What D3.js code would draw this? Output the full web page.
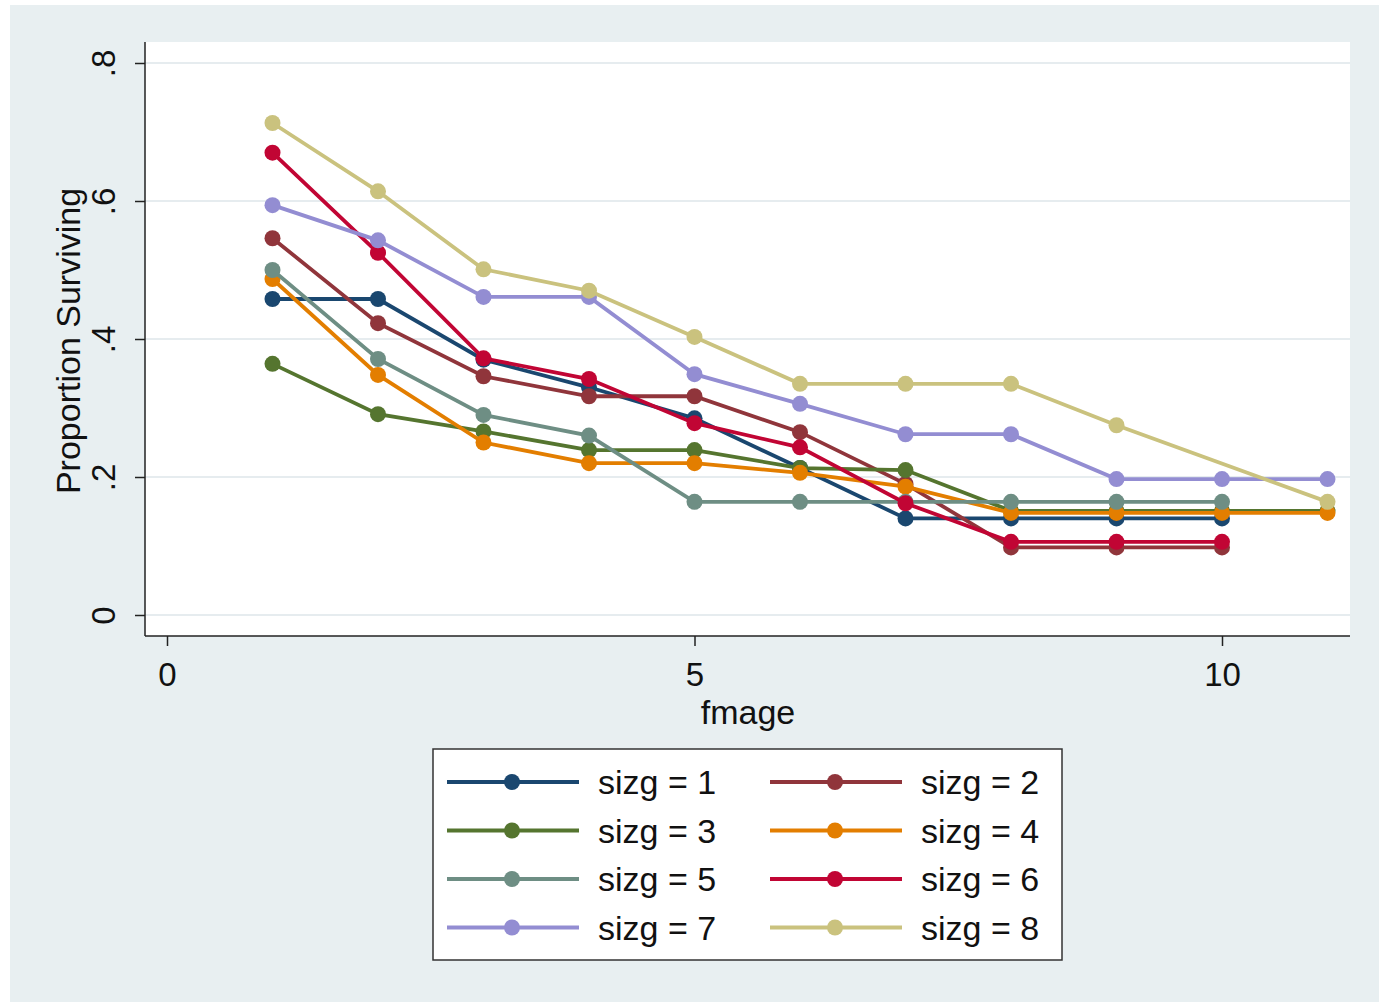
<!DOCTYPE html>
<html>
<head>
<meta charset="utf-8">
<script src="https://cdn.jsdelivr.net/npm/d3@7"></script>
<style>
  body { margin: 0; background: #fff; }
  svg text { font-family: "Liberation Sans", Arial, sans-serif; fill: #111; }
</style>
</head>
<body>
<div id="vizcont"></div>
<script>
// values, null = no point for that fmage
var fmage = [1, 2, 3, 4, 5, 6, 7, 8, 9, 10, 11];
var sizg1 = [0.458, 0.458, 0.370, 0.330, 0.285, 0.213, 0.140, 0.140, 0.140, 0.140, null];
var sizg2 = [0.546, 0.423, 0.346, 0.317, 0.317, 0.265, 0.190, 0.098, 0.098, 0.098, null];
var sizg3 = [0.364, 0.291, 0.266, 0.239, 0.239, 0.213, 0.210, 0.151, 0.151, 0.151, 0.151];
var sizg4 = [0.487, 0.348, 0.250, 0.220, 0.220, 0.206, 0.186, 0.148, 0.148, 0.148, 0.148];
var sizg5 = [0.500, 0.371, 0.290, 0.260, 0.164, 0.164, 0.164, 0.164, 0.164, 0.164, null];
var sizg6 = [0.670, 0.525, 0.372, 0.342, 0.278, 0.243, 0.162, 0.106, 0.106, 0.106, null];
var sizg7 = [0.594, 0.543, 0.461, 0.461, 0.349, 0.306, 0.262, 0.262, 0.197, 0.197, 0.197];
var sizg8 = [0.713, 0.614, 0.501, 0.470, 0.403, 0.335, 0.335, 0.335, 0.275, null, 0.164];

var seriesNames = ["sizg = 1", "sizg = 2", "sizg = 3", "sizg = 4", "sizg = 5", "sizg = 6", "sizg = 7", "sizg = 8"];
var seriesColors = ["#1a476f", "#90353b", "#55752f", "#e37e00", "#6e8e84", "#c10534", "#938dd2", "#cac27e"];
var allSeries = [sizg1, sizg2, sizg3, sizg4, sizg5, sizg6, sizg7, sizg8];

var xTicks = [0, 5, 10];
var xTickLabels = ["0", "5", "10"];
var yTicks = [0, 0.2, 0.4, 0.6, 0.8];
var yTickLabels = ["0", ".2", ".4", ".6", ".8"];

var W = 1379, H = 1002;
var plot = {left: 145, top: 42, right: 1350, bottom: 636};

var svg = d3.select("#vizcont").append("svg")
    .attr("width", W).attr("height", H);

// graph background
svg.append("rect")
    .attr("x", 10).attr("y", 5)
    .attr("width", W - 10).attr("height", H - 5)
    .attr("fill", "#e8eff1");

// plot region
svg.append("rect")
    .attr("x", plot.left).attr("y", plot.top)
    .attr("width", plot.right - plot.left).attr("height", plot.bottom - plot.top)
    .attr("fill", "#ffffff");

var x = d3.scaleLinear().domain([0, 10]).range([167, 1222]);
var y = d3.scaleLinear().domain([0, 0.8]).range([615, 63]);

// gridlines
svg.append("g").selectAll("line")
    .data(yTicks)
    .enter().append("line")
    .attr("x1", plot.left).attr("x2", plot.right)
    .attr("y1", function(d) { return y(d); })
    .attr("y2", function(d) { return y(d); })
    .attr("stroke", "#e6ecef")
    .style("stroke-width", "2px");

// y axis
var gy = svg.append("g")
    .attr("transform", "translate(" + plot.left + ",0)")
    .call(d3.axisLeft(y).tickValues(yTicks)
        .tickFormat(function(d, i) { return yTickLabels[i]; })
        .tickSize(10).tickPadding(0));
gy.select(".domain").remove();
gy.selectAll(".tick line").attr("stroke", "#222").style("stroke-width", "1.5px");
gy.selectAll(".tick text")
    .attr("x", 0).attr("dy", 0)
    .attr("transform", "translate(-42,0) rotate(-90)")
    .attr("text-anchor", "middle")
    .attr("dominant-baseline", "central")
    .style("font-size", "33px");

// x axis
var gx = svg.append("g")
    .attr("transform", "translate(0," + plot.bottom + ")")
    .call(d3.axisBottom(x).tickValues(xTicks)
        .tickFormat(function(d, i) { return xTickLabels[i]; })
        .tickSize(10).tickPadding(17));
gx.select(".domain").remove();
gx.selectAll(".tick line").attr("stroke", "#222").style("stroke-width", "1.5px");
gx.selectAll(".tick text").style("font-size", "33px").attr("dy", "0.71em");

// axis lines
svg.append("line")
    .attr("x1", plot.left).attr("x2", plot.left)
    .attr("y1", plot.top).attr("y2", plot.bottom)
    .attr("stroke", "#222").style("stroke-width", "1.5px");
svg.append("line")
    .attr("x1", plot.left).attr("x2", plot.right)
    .attr("y1", plot.bottom).attr("y2", plot.bottom)
    .attr("stroke", "#222").style("stroke-width", "1.5px");

// axis titles
svg.append("text")
    .attr("transform", "translate(68,341) rotate(-90)")
    .attr("text-anchor", "middle")
    .attr("dominant-baseline", "central")
    .style("font-size", "34px")
    .text("Proportion Surviving");
svg.append("text")
    .attr("x", 748).attr("y", 724)
    .attr("text-anchor", "middle")
    .style("font-size", "34px")
    .text("fmage");

// series
var line = d3.line()
    .x(function(d) { return x(d.x); })
    .y(function(d) { return y(d.v); });

var seriesData = allSeries.map(function(vals, i) {
    var pts = [];
    vals.forEach(function(v, j) { if (v !== null) pts.push({x: fmage[j], v: v}); });
    return {name: seriesNames[i], color: seriesColors[i], pts: pts};
});

var gs = svg.append("g").selectAll("g.series")
    .data(seriesData)
    .enter().append("g").attr("class", "series");

gs.append("path")
    .attr("d", function(d) { return line(d.pts); })
    .attr("fill", "none")
    .attr("stroke", function(d) { return d.color; })
    .style("stroke-width", "3.8px");

gs.selectAll("circle")
    .data(function(d) { return d.pts.map(function(p) { return {p: p, color: d.color}; }); })
    .enter().append("circle")
    .attr("cx", function(d) { return x(d.p.x); })
    .attr("cy", function(d) { return y(d.p.v); })
    .attr("r", 8)
    .attr("fill", function(d) { return d.color; });

// legend
var lg = svg.append("g");
lg.append("rect")
    .attr("x", 433).attr("y", 749)
    .attr("width", 629).attr("height", 211)
    .attr("fill", "#ffffff")
    .attr("stroke", "#333")
    .style("stroke-width", "1.5px");

var items = lg.selectAll("g.item")
    .data(seriesData)
    .enter().append("g").attr("class", "item")
    .attr("transform", function(d, i) {
        var col = i % 2, row = Math.floor(i / 2);
        return "translate(" + (447 + col * 323) + "," + (782 + row * 48.5) + ")";
    });
items.append("line")
    .attr("x1", 0).attr("x2", 132).attr("y1", 0).attr("y2", 0)
    .attr("stroke", function(d) { return d.color; })
    .style("stroke-width", "4px");
items.append("circle")
    .attr("cx", 65).attr("cy", 0).attr("r", 8)
    .attr("fill", function(d) { return d.color; });
items.append("text")
    .attr("x", 151).attr("y", 0)
    .attr("dominant-baseline", "central")
    .style("font-size", "34px")
    .text(function(d) { return d.name; });
</script>
</body>
</html>
